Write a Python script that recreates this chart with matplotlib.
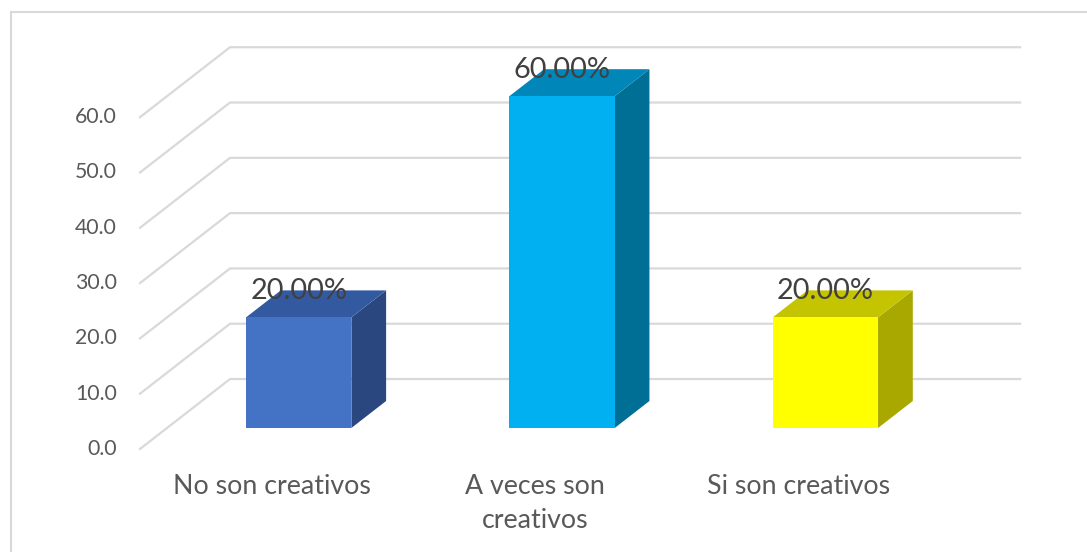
import matplotlib
matplotlib.use("Agg")
import matplotlib.pyplot as plt
from matplotlib.patches import Polygon
from matplotlib.lines import Line2D

# Data
categories = ["No son creativos", "A veces son\ncreativos", "Si son creativos"]
values = [20.0, 60.0, 20.0]
value_labels = ["20.00%", "60.00%", "20.00%"]
y_ticks = [0, 10, 20, 30, 40, 50, 60]
tick_labels = ["0.0", "10.0", "20.0", "30.0", "40.0", "50.0", "60.0"]

# Face colours per bar: front, top, side
front_colors = ["#4472C4", "#00B0F0", "#FFFF00"]
top_colors = ["#335AA0", "#0086B8", "#C4C400"]
side_colors = ["#2A4780", "#006F96", "#A8A800"]

# Oblique projection of the depth axis (d = 0 front, d = 1 back wall)
DX = 0.3418   # horizontal shift in category units
DY = 12.65    # vertical shift in value units
D0, D1 = 0.30, 0.686   # bar depth extent
BAR_W = 0.40

W, H = 1087, 552
fig = plt.figure(figsize=(W / 100, H / 100), dpi=100)
ax = fig.add_axes([0, 0, 1, 1])
ax.set_xlim(-1.0317, 3.096)
ax.set_ylim(-18.63, 81.19)
ax.axis("off")

font = "Lato"
grid_c = "#D9D9D9"

# Floor / wall gridlines
n = len(categories)
for v in y_ticks:
    ax.plot([-0.5, -0.5 + DX, n - 0.5 + DX], [v, v + DY, v + DY],
            color=grid_c, lw=1.6, solid_joinstyle="miter", zorder=1)

# Value axis labels
for v, t in zip(y_ticks, tick_labels):
    ax.text(-0.5 - 0.088, v, t, ha="right", va="center", fontsize=15.3,
            color="#595959", family=font)

# Bars
for i, v in enumerate(values):
    x0 = i - BAR_W / 2 + D0 * DX
    x1 = i + BAR_W / 2 + D0 * DX
    yb = D0 * DY
    yt = v + D0 * DY
    ddx = (D1 - D0) * DX
    ddy = (D1 - D0) * DY
    front = Polygon([(x0, yb), (x1, yb), (x1, yt), (x0, yt)], closed=True,
                    facecolor=front_colors[i], edgecolor="none", zorder=3)
    top = Polygon([(x0, yt), (x1, yt), (x1 + ddx, yt + ddy), (x0 + ddx, yt + ddy)],
                  closed=True, facecolor=top_colors[i], edgecolor="none", zorder=3)
    side = Polygon([(x1, yb), (x1 + ddx, yb + ddy), (x1 + ddx, yt + ddy), (x1, yt)],
                   closed=True, facecolor=side_colors[i], edgecolor="none", zorder=3)
    for p in (side, top, front):
        ax.add_patch(p)
    ax.text(i + D0 * DX, v + D1 * DY - 0.2, value_labels[i], ha="center", va="center",
            fontsize=20.8, color="#404040", family=font, zorder=4)

# Category labels
for i, c in enumerate(categories):
    ax.text(i, -4.6, c, ha="center", va="top", fontsize=19.3, color="#595959",
            family=font, linespacing=1.43)

# Chart area border (top and left edges)
fig.add_artist(Line2D([11 / W, 11 / W], [0, 1 - 12 / H], transform=fig.transFigure,
                      color=grid_c, lw=1.5))
fig.add_artist(Line2D([11 / W, 1], [1 - 12 / H, 1 - 12 / H], transform=fig.transFigure,
                      color=grid_c, lw=1.5))

fig.savefig("out.png", dpi=100, facecolor="white")
